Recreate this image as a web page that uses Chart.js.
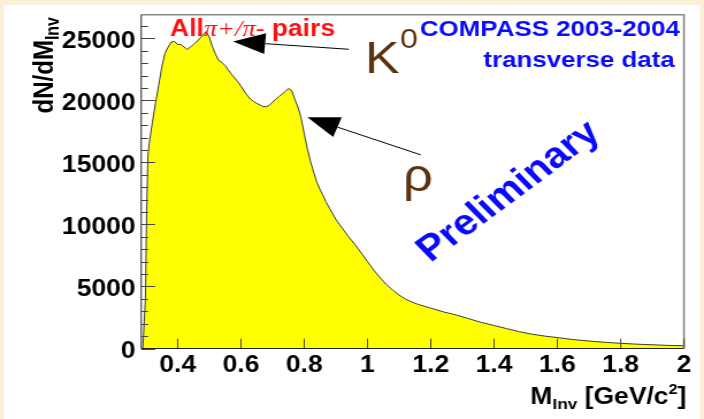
<!DOCTYPE html>
<html>
<head>
<meta charset="utf-8">
<script src="https://cdn.jsdelivr.net/npm/chart.js@4.4.0/dist/chart.umd.min.js"></script>
<style>
  html, body { margin: 0; padding: 0; background: #fbf0d9; }
  #page { position: relative; width: 704px; height: 419px; overflow: hidden; }
  #panel { position: absolute; left: 4px; top: 5px; width: 696px; height: 414px; background: #fff; }
  /* the plot is laid out narrow and widened, like the exported figure */
  #wrap { position: absolute; left: 0; top: 0; width: 612px; height: 419px;
          transform: scaleX(1.1503); transform-origin: 0 0; }
</style>
</head>
<body>
<div id="page">
  <div id="panel"></div>
  <div id="wrap"><canvas id="mass-chart" width="612" height="419"></canvas></div>
</div>
<script>
// invariant mass of pi+/pi- pairs, GeV/c^2
var masses = [
  0.290, 0.298, 0.302, 0.306, 0.31, 0.32, 0.33, 0.34, 0.35, 0.36, 0.37, 0.38, 0.39,
  0.40, 0.41, 0.42, 0.43, 0.44, 0.45, 0.46, 0.47, 0.48, 0.49, 0.50, 0.51, 0.52,
  0.53, 0.54, 0.55, 0.56, 0.57, 0.58, 0.59, 0.60, 0.61, 0.62, 0.63, 0.64, 0.65,
  0.66, 0.67, 0.68, 0.69, 0.70, 0.71, 0.72, 0.73, 0.74, 0.75, 0.76, 0.77, 0.78,
  0.79, 0.80, 0.81, 0.82, 0.83, 0.84, 0.85, 0.86, 0.87, 0.88, 0.89, 0.90, 0.92,
  0.94, 0.96, 0.98, 1.00, 1.02, 1.04, 1.06, 1.08, 1.10, 1.12, 1.14, 1.16, 1.18,
  1.20, 1.24, 1.28, 1.32, 1.36, 1.40, 1.44, 1.48, 1.52, 1.56, 1.60, 1.65, 1.70,
  1.75, 1.80, 1.85, 1.90, 1.95, 2.00
];
// dN/dM per bin
var counts = [
  0, 4000, 11000, 15500, 16500, 18200, 19800, 21200, 22700, 23800, 24300, 24700, 24750,
  24500, 24500, 24300, 24100, 24300, 24500, 24700, 25000, 25250, 25550, 25100, 24300, 23700,
  23200, 23050, 22800, 22450, 22100, 21800, 21500, 21150, 20750, 20400, 20100, 19900, 19750,
  19630, 19500, 19480, 19600, 19850, 20100, 20300, 20500, 20700, 20950, 20800, 20100, 19450,
  18600, 17300, 16100, 15050, 14200, 13400, 12800, 12300, 11750, 11300, 10850, 10400, 9700,
  9000, 8400, 7700, 7000, 6300, 5700, 5150, 4700, 4300, 3980, 3750, 3550, 3400,
  3250, 2950, 2700, 2400, 2100, 1850, 1600, 1350, 1150, 1000, 880, 720, 600,
  500, 420, 350, 300, 250, 220
];

var xTicks = [0.4, 0.6, 0.8, 1.0, 1.2, 1.4, 1.6, 1.8, 2.0];
var xTickLabels = ["0.4", "0.6", "0.8", "1", "1.2", "1.4", "1.6", "1.8", "2"];
var yTicks = [0, 5000, 10000, 15000, 20000, 25000];
var yTickLabels = ["0", "5000", "10000", "15000", "20000", "25000"];

var points = masses.map(function (m, i) {
  return { x: m, y: counts[i] };
});

var SANS = "'Liberation Sans', Arial, sans-serif";
var SERIF = "'Liberation Serif', 'Times New Roman', serif";

function noPadding(scale) {
  scale.paddingTop = 0;
  scale.paddingBottom = 0;
  scale.paddingLeft = 0;
  scale.paddingRight = 0;
}

// frame plus inward ROOT-style ticks
var frame = {
  id: "frame",
  afterDatasetsDraw: function (chart) {
    var ctx = chart.ctx;
    var a = chart.chartArea;
    var xs = chart.scales.x;
    var ys = chart.scales.y;
    ctx.save();
    ctx.strokeStyle = "#8a8a8a";
    ctx.lineWidth = 1.6;
    ctx.beginPath();
    ctx.moveTo(a.left, a.top);
    ctx.lineTo(a.right, a.top);
    ctx.lineTo(a.right, a.bottom);
    ctx.stroke();

    ctx.strokeStyle = "#222";
    ctx.lineWidth = 1;
    ctx.beginPath();
    ctx.moveTo(a.left, a.top);
    ctx.lineTo(a.left, a.bottom);
    ctx.lineTo(a.right, a.bottom);
    ctx.stroke();

    ctx.strokeStyle = "#444";
    ctx.beginPath();
    for (var v = 0; v <= ys.max; v += 1000) {
      var py = Math.round(ys.getPixelForValue(v)) + 0.5;
      var len = v % 5000 === 0 ? 12 : 6;
      ctx.moveTo(a.left, py);
      ctx.lineTo(a.left + len, py);
    }
    xTicks.forEach(function (t) {
      var px = xs.getPixelForValue(t);
      ctx.moveTo(px, a.bottom);
      ctx.lineTo(px, a.bottom - 10);
    });
    ctx.stroke();
    ctx.restore();
  },
};

function arrow(ctx, x0, y0, x1, y1) {
  var ang = Math.atan2(y1 - y0, x1 - x0);
  var len = 28, half = 10.5;
  var bx = x1 - len * Math.cos(ang);
  var by = y1 - len * Math.sin(ang);
  ctx.beginPath();
  ctx.moveTo(x0, y0);
  ctx.lineTo(bx, by);
  ctx.stroke();
  ctx.beginPath();
  ctx.moveTo(x1, y1);
  ctx.lineTo(bx + half * Math.sin(ang), by - half * Math.cos(ang));
  ctx.lineTo(bx - half * Math.sin(ang), by + half * Math.cos(ang));
  ctx.closePath();
  ctx.fill();
}

// texts, arrows and axis titles
var labels = {
  id: "labels",
  afterDraw: function (chart) {
    var ctx = chart.ctx;
    var xs = chart.scales.x;
    var ys = chart.scales.y;
    function px(m) { return xs.getPixelForValue(m); }
    function py(n) { return ys.getPixelForValue(n); }
    ctx.save();
    ctx.textBaseline = "alphabetic";

    // All pi+/pi- pairs
    var x = px(0.376), y = py(25161);
    ctx.fillStyle = "#ff1010";
    ctx.textAlign = "left";
    ctx.font = "bold 23px " + SANS;
    ctx.fillText("All", x, y);
    x += ctx.measureText("All").width;
    ctx.font = "italic 23px " + SERIF;
    ctx.fillText("\u03c0+/\u03c0-", x, y);
    x += ctx.measureText("\u03c0+/\u03c0-").width;
    ctx.font = "bold 23px " + SANS;
    ctx.fillText(" pairs", x, y);

    // experiment
    ctx.fillStyle = "#0a0aff";
    ctx.textAlign = "right";
    ctx.font = "bold 22.5px " + SANS;
    ctx.fillText("COMPASS 2003-2004", px(1.987), py(25145));
    ctx.fillText("transverse data", px(1.971), py(22702));

    // resonance markers
    ctx.fillStyle = "#5c3310";
    ctx.textAlign = "left";
    ctx.font = "45px " + SANS;
    ctx.fillText("K", px(0.992), py(22200));
    ctx.font = "28px " + SANS;
    ctx.fillText("0", px(1.103), py(24234));
    ctx.font = "46px " + SANS;
    ctx.fillText("\u03c1", px(1.112), py(12700));

    ctx.strokeStyle = "#000";
    ctx.fillStyle = "#000";
    ctx.lineWidth = 1;
    arrow(ctx, px(0.941), py(24113), px(0.575), py(24742));
    arrow(ctx, px(1.168), py(15605), px(0.810), py(18645));

    // Preliminary
    ctx.save();
    ctx.translate(px(1.447), py(12621));
    ctx.rotate(-40.5 * Math.PI / 180);
    ctx.fillStyle = "#0a0aff";
    ctx.textAlign = "center";
    ctx.textBaseline = "middle";
    ctx.font = "bold 36px " + SANS;
    ctx.fillText("Preliminary", 0, 0);
    ctx.restore();

    // y title, rotated, flush with the top of the frame
    ctx.save();
    ctx.fillStyle = "#000";
    ctx.font = "bold 24px " + SANS;
    var w1 = ctx.measureText("dN/dM").width;
    ctx.font = "bold 16px " + SANS;
    var w2 = ctx.measureText("Inv").width;
    ctx.translate(46, 17 + w1 + w2);
    ctx.rotate(-Math.PI / 2);
    ctx.textAlign = "left";
    ctx.font = "bold 24px " + SANS;
    ctx.fillText("dN/dM", 0, 0);
    ctx.font = "bold 16px " + SANS;
    ctx.fillText("Inv", w1, 5);
    ctx.restore();

    // x title, flush with the right of the frame
    var parts = [
      { t: "M", f: "bold 23px ", dy: 0 },
      { t: "Inv", f: "bold 15px ", dy: 5 },
      { t: " [GeV/c", f: "bold 23px ", dy: 0 },
      { t: "2", f: "bold 14px ", dy: -10 },
      { t: "]", f: "bold 23px ", dy: 0 },
    ];
    var total = 0;
    parts.forEach(function (p) {
      ctx.font = p.f + SANS;
      p.w = ctx.measureText(p.t).width;
      total += p.w;
    });
    x = chart.chartArea.right + 2 - total;
    ctx.fillStyle = "#000";
    ctx.textAlign = "left";
    parts.forEach(function (p) {
      ctx.font = p.f + SANS;
      ctx.fillText(p.t, x, 404 + p.dy);
      x += p.w;
    });
    ctx.restore();
  },
};

var tickFont = { family: SANS, size: 23, weight: "bold" };

var config = {
  type: "line",
  data: {
    datasets: [
      {
        label: "All pi+/pi- pairs",
        data: points,
        fill: "origin",
        backgroundColor: "#ffff00",
        borderColor: "#3a3a3a",
        borderWidth: 1,
        pointRadius: 0,
        tension: 0,
      },
    ],
  },
  options: {
    responsive: false,
    animation: false,
    events: [],
    layout: { padding: { top: 14.7, right: 17.4, left: 0, bottom: 0 } },
    plugins: {
      legend: { display: false },
      tooltip: { enabled: false },
    },
    scales: {
      x: {
        type: "linear",
        min: 0.285,
        max: 2,
        afterBuildTicks: function (s) {
          s.ticks = xTicks.map(function (v) { return { value: v }; });
        },
        afterFit: function (s) {
          s.height = 70.5;
          noPadding(s);
        },
        ticks: {
          callback: function (v) { return xTickLabels[xTicks.indexOf(v)]; },
          font: tickFont,
          color: "#000",
          padding: 3,
          maxRotation: 0,
          autoSkip: false,
        },
        grid: { display: false, drawTicks: false },
        border: { display: false },
      },
      y: {
        min: 0,
        max: 26900,
        afterBuildTicks: function (s) {
          s.ticks = yTicks.map(function (v) { return { value: v }; });
        },
        afterFit: function (s) {
          s.width = 122.8;
          noPadding(s);
        },
        ticks: {
          callback: function (v) { return yTickLabels[yTicks.indexOf(v)]; },
          font: tickFont,
          color: "#000",
          padding: 5,
          labelOffset: 3,
          autoSkip: false,
        },
        grid: { display: false, drawTicks: false },
        border: { display: false },
      },
    },
  },
  plugins: [frame, labels],
};

var ctxOne = document.getElementById("mass-chart").getContext("2d");
new Chart(ctxOne, config);
</script>
</body>
</html>
